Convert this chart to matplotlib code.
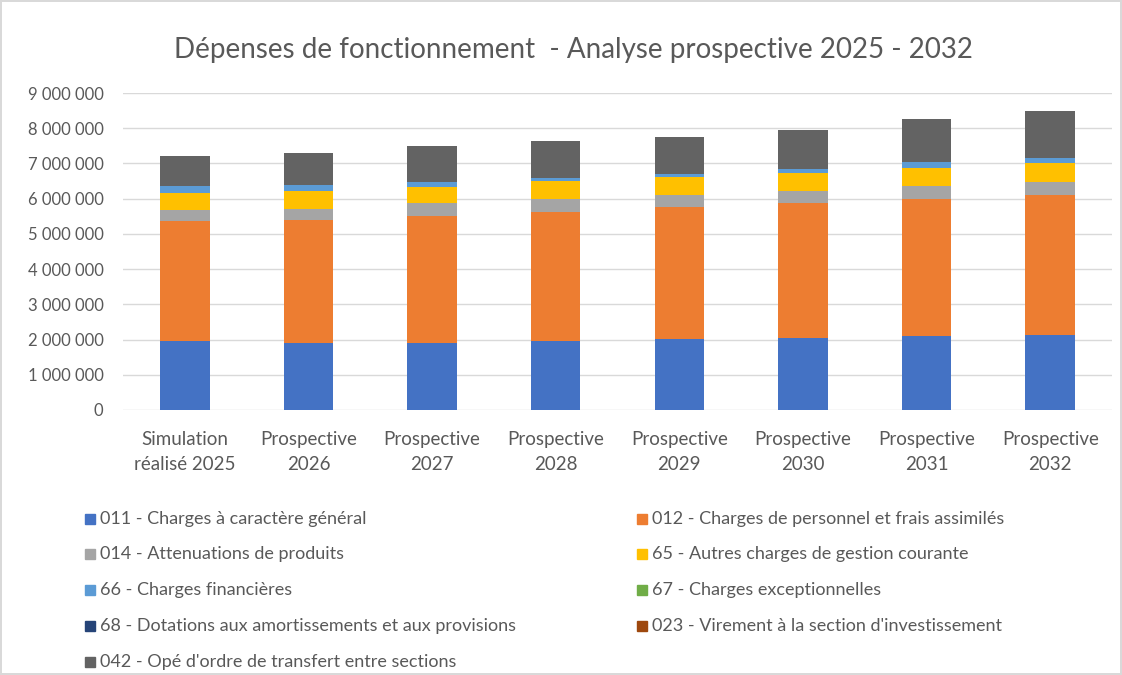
import matplotlib.pyplot as plt
from matplotlib.patches import Rectangle
from matplotlib.ticker import FuncFormatter
import numpy as np

# categories (x axis)
categories = ["Simulation\nréalisé 2025", "Prospective\n2026", "Prospective\n2027",
              "Prospective\n2028", "Prospective\n2029", "Prospective\n2030",
              "Prospective\n2031", "Prospective\n2032"]

# series values (euros)
c011 = [1953000, 1896000, 1915000, 1972000, 2009000, 2038000, 2104000, 2133000]
c012 = [3402000, 3488000, 3583000, 3658000, 3745000, 3829000, 3887000, 3981000]
c014 = [332000, 332000, 369000, 351000, 350000, 360000, 360000, 350000]
c65 = [474000, 511000, 474000, 521000, 522000, 512000, 512000, 550000]
c66 = [190000, 152000, 133000, 76000, 85000, 114000, 180000, 152000]
c67 = [0, 0, 0, 0, 0, 0, 0, 0]
c68 = [15000, 0, 0, 0, 0, 0, 0, 0]
c023 = [0, 0, 0, 0, 0, 0, 0, 0]
c042 = [857000, 929000, 1014000, 1062000, 1052000, 1090000, 1232000, 1317000]

series_names = ["011 - Charges à caractère général",
                "012 - Charges de personnel et frais assimilés",
                "014 - Attenuations de produits",
                "65 - Autres charges de gestion courante",
                "66 - Charges financières",
                "67 - Charges exceptionnelles",
                "68 - Dotations aux amortissements et aux provisions",
                "023 - Virement à la section d'investissement",
                "042 - Opé d'ordre de transfert entre sections"]
series_vals = [c011, c012, c014, c65, c66, c67, c68, c023, c042]
colors = ["#4472C4", "#ED7D31", "#A5A5A5", "#FFC000", "#5B9BD5",
          "#70AD47", "#264478", "#9E480E", "#636363"]

plt.rcParams['font.family'] = ['Lato', 'DejaVu Sans']
txt = "#595959"

fig = plt.figure(figsize=(11.22, 6.75), dpi=100)
fig.patch.set_edgecolor("#d9d9d9")
fig.patch.set_linewidth(1.5)
ax = fig.add_axes([123 / 1122, 1 - 410 / 675, (1112 - 123) / 1122, (410 - 93) / 675])

x = np.arange(len(categories))
bottom = np.zeros(len(categories))
for name, vals, col in zip(series_names, series_vals, colors):
    ax.bar(x, vals, 0.4, bottom=bottom, color=col, label=name, zorder=3)
    bottom += np.array(vals)

ax.set_ylim(0, 9000000)
ax.set_xlim(-0.5, len(categories) - 0.5)
ax.set_yticks(np.arange(0, 9000001, 1000000))
ax.yaxis.set_major_formatter(FuncFormatter(lambda v, p: f"{int(v):,}".replace(",", " ")))
ax.set_xticks(x)
ax.set_xticklabels(categories, linespacing=1.55)
ax.tick_params(axis='both', length=0, colors=txt)
ax.tick_params(axis='x', labelsize=13.5, pad=15)
ax.tick_params(axis='y', labelsize=12, pad=14)
ax.grid(axis='y', color="#d9d9d9", linewidth=1, zorder=0)
for s in ax.spines.values():
    s.set_visible(False)

fig.text(573 / 1122, 1 - 50 / 675, "Dépenses de fonctionnement  - Analyse prospective 2025 - 2032",
         ha='center', va='center', fontsize=20, color=txt)

# legend drawn row by row, two columns
col_x = [85, 637]
row_y = [519, 554, 590, 626, 662]
for i, (name, col) in enumerate(zip(series_names, colors)):
    r, c = divmod(i, 2)
    px, py = col_x[c], row_y[r]
    fig.add_artist(Rectangle((px / 1122, 1 - (py + 5) / 675), 10 / 1122, 10 / 675,
                             color=col, transform=fig.transFigure))
    fig.text((px + 15) / 1122, 1 - py / 675, name, ha='left', va='center',
             fontsize=13, color=txt)

plt.savefig("out.png", dpi=100, edgecolor=fig.get_edgecolor())
